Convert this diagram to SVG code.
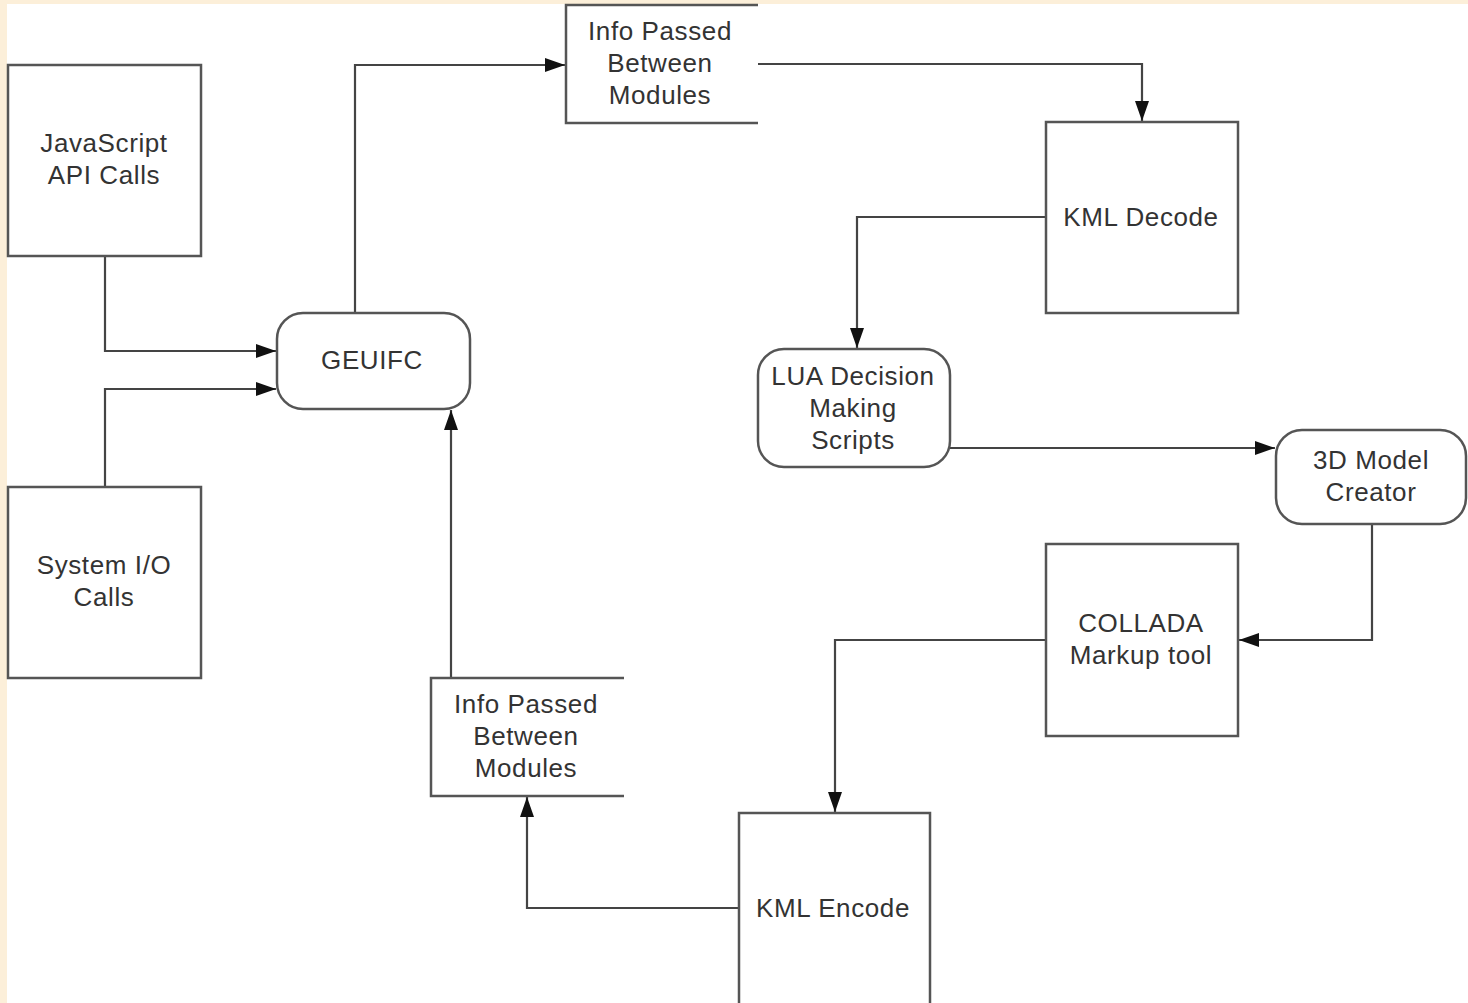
<svg xmlns="http://www.w3.org/2000/svg" width="1468" height="1003" viewBox="0 0 1468 1003">
<style>
.box{fill:#fff;stroke:#555;stroke-width:2.5}
.open{fill:none;stroke:#555;stroke-width:2.5}
.t{font-family:"Liberation Sans",Arial,sans-serif;font-size:26px;letter-spacing:0.6px;fill:#333;text-anchor:middle}
.c{fill:none;stroke:#444;stroke-width:2.2;marker-end:url(#ah)}
</style>
<defs>
<marker id="ah" viewBox="0 0 20 14" refX="20" refY="7" markerWidth="20" markerHeight="14" markerUnits="userSpaceOnUse" orient="auto">
<path d="M0,0 L20,7 L0,14 Z" fill="#111"/>
</marker>
</defs>
<rect x="0" y="0" width="1468" height="1003" fill="#fcefd9"/>
<rect x="7" y="4" width="1461" height="999" fill="#fff"/>

<g id="connectors">
<path class="c" d="M105,256 V351 H276"/>
<path class="c" d="M105,487 V389 H276"/>
<path class="c" d="M355,313 V65 H565"/>
<path class="c" d="M758,64 H1142 V121"/>
<path class="c" d="M1046,217 H857 V348"/>
<path class="c" d="M950,448 H1275"/>
<path class="c" d="M1372,524 V640 H1239"/>
<path class="c" d="M1046,640 H835 V812"/>
<path class="c" d="M739,908 H527 V797"/>
<path class="c" d="M451,678 V410"/>
</g>

<g id="js">
<rect class="box" x="8" y="65" width="193" height="191"/>
<text class="t" x="104" y="152">JavaScript</text>
<text class="t" x="104" y="184">API Calls</text>
</g>
<g id="sysio">
<rect class="box" x="8" y="487" width="193" height="191"/>
<text class="t" x="104" y="574">System I/O</text>
<text class="t" x="104" y="606">Calls</text>
</g>
<g id="geuifc">
<rect class="box" x="277" y="313" width="193" height="96" rx="26"/>
<text class="t" x="372" y="369">GEUIFC</text>
</g>
<g id="info1">
<path class="open" d="M758,5 H566 V123 H758"/>
<text class="t" x="660" y="40">Info Passed</text>
<text class="t" x="660" y="72">Between</text>
<text class="t" x="660" y="104">Modules</text>
</g>
<g id="kmldecode">
<rect class="box" x="1046" y="122" width="192" height="191"/>
<text class="t" x="1141" y="226">KML Decode</text>
</g>
<g id="lua">
<rect class="box" x="758" y="349" width="192" height="118" rx="26"/>
<text class="t" x="853" y="385">LUA Decision</text>
<text class="t" x="853" y="417">Making</text>
<text class="t" x="853" y="449">Scripts</text>
</g>
<g id="model3d">
<rect class="box" x="1276" y="430" width="190" height="94" rx="26"/>
<text class="t" x="1371" y="469">3D Model</text>
<text class="t" x="1371" y="501">Creator</text>
</g>
<g id="collada">
<rect class="box" x="1046" y="544" width="192" height="192"/>
<text class="t" x="1141" y="632">COLLADA</text>
<text class="t" x="1141" y="664">Markup tool</text>
</g>
<g id="info2">
<path class="open" d="M624,678 H431 V796 H624"/>
<text class="t" x="526" y="713">Info Passed</text>
<text class="t" x="526" y="745">Between</text>
<text class="t" x="526" y="777">Modules</text>
</g>
<g id="kmlencode">
<rect class="box" x="739" y="813" width="191" height="200"/>
<text class="t" x="833" y="917">KML Encode</text>
</g>
</svg>
